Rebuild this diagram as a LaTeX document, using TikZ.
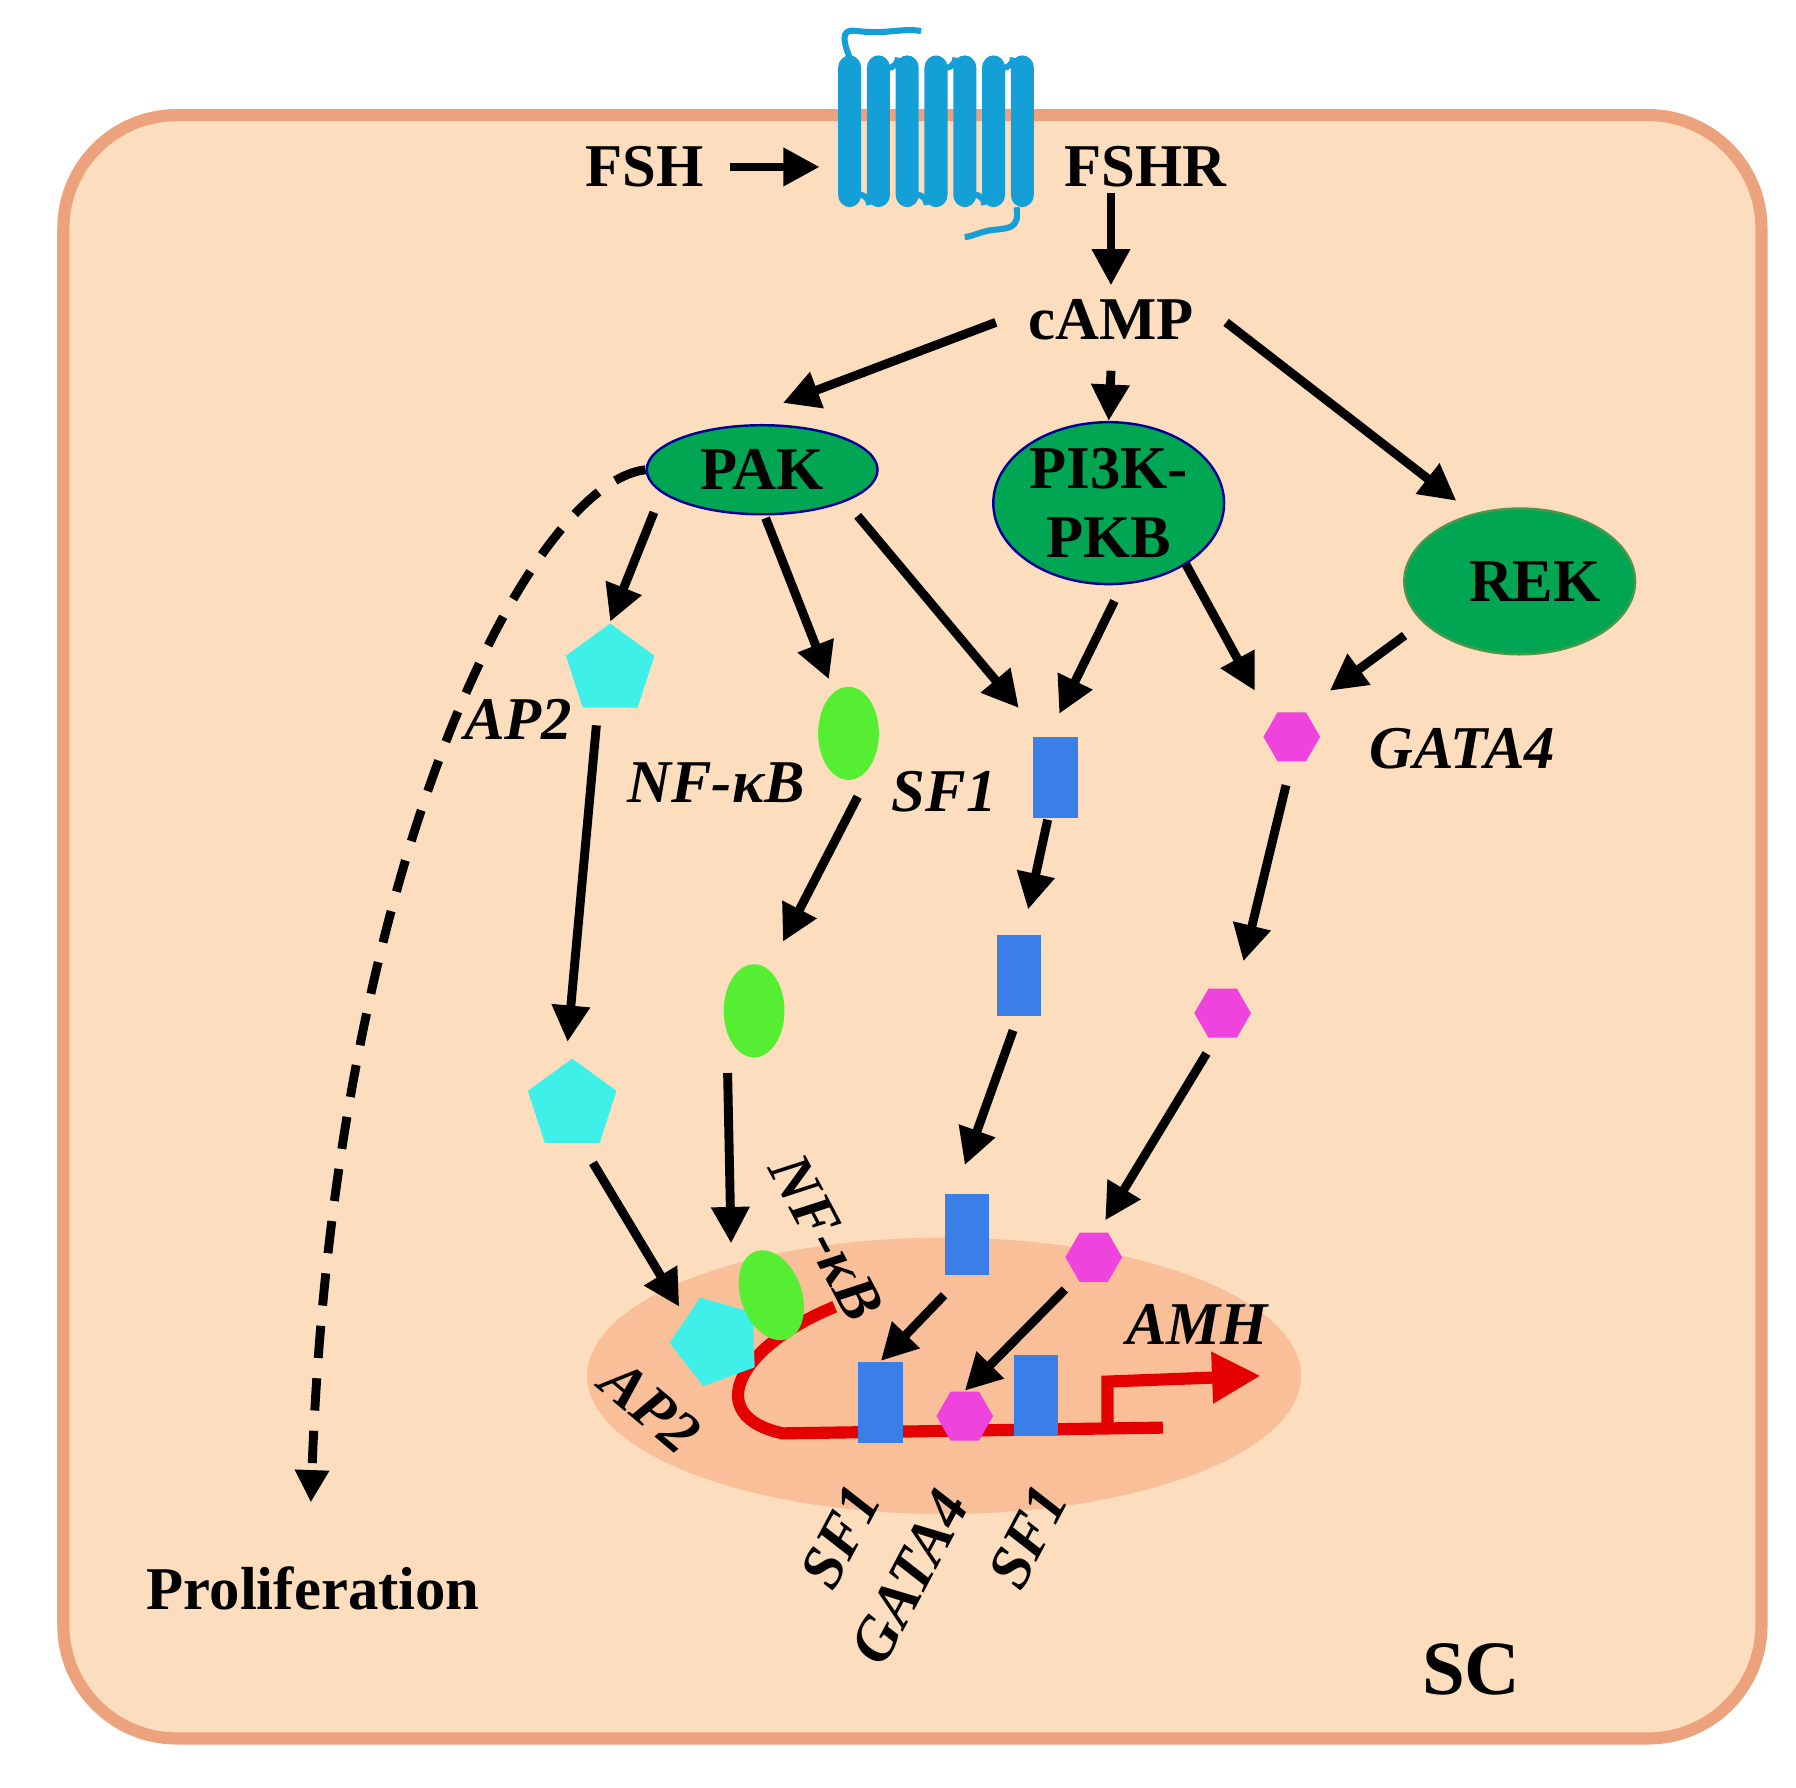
\documentclass[tikz,border=0pt]{standalone}
\usepackage{fontspec}
\setmainfont{Liberation Serif}
\usetikzlibrary{shapes.geometric,arrows.meta}
\definecolor{cellf}{HTML}{FCDDBD}
\definecolor{celld}{HTML}{EDA27E}
\definecolor{nuc}{HTML}{F8BF98}
\definecolor{gr}{HTML}{00A651}
\definecolor{rec}{HTML}{149FD6}
\definecolor{cy}{HTML}{3EF0E8}
\definecolor{lg}{HTML}{55EE33}
\definecolor{bl}{HTML}{3A7FE8}
\definecolor{mg}{HTML}{EE44DD}
\begin{document}
\begin{tikzpicture}[x=0.01cm,y=-0.01cm,
 ar/.style={line width=2.2pt,-{Triangle[length=9pt,width=9pt]}},
 lb/.style={font=\fontsize{15}{18}\selectfont\bfseries},
 il/.style={font=\fontsize{15}{18}\selectfont\bfseries\itshape},
 enz/.style={ellipse,fill=gr,draw=blue!60!black,line width=0.6pt,font=\fontsize{15}{17}\selectfont\bfseries,align=center,inner sep=0pt},
 pent/.style={regular polygon,regular polygon sides=5,fill=cy,minimum size=23pt,inner sep=0pt},
 hexa/.style={regular polygon,regular polygon sides=6,fill=mg,minimum size=14pt,inner sep=0pt},
 sfr/.style={rectangle,fill=bl,minimum width=11pt,minimum height=20pt,inner sep=0pt},
 nfe/.style={ellipse,fill=lg,minimum width=15pt,minimum height=23pt,inner sep=0pt}]
\useasboundingbox (0,0) rectangle (1560,1553);
\fill[white] (0,0) rectangle (1560,1553);
\draw[fill=cellf,draw=celld,line width=3pt,rounded corners=28pt] (55,100) rectangle (1530,1510);
% receptor
\foreach \i in {0,...,6}{\fill[rec,rounded corners=3pt] (728+\i*25,48) rectangle (748+\i*25,180);}
\foreach \i in {0,2,4}{\draw[rec,line width=1.5pt] (762+\i*25,50) arc (180:0:9);}
\foreach \i in {0,2,4}{\draw[rec,line width=1.5pt] (737+\i*25,178) arc (180:360:9);}
\draw[rec,line width=1.5pt] (738,50) .. controls (730,30) and (733,25) .. (745,27) .. controls (770,30) and (785,24) .. (800,27);
\draw[rec,line width=1.5pt] (883,180) .. controls (886,200) and (875,198) .. (860,200) .. controls (850,202) and (845,205) .. (838,206);
\coordinate (rc) at (712,145);
\node[lb] (fsh) at (560,145) {FSH};
\draw[ar] (fsh.east) ++(10,0) -- (rc);
\node[lb] (fshr) at (995,145) {FSHR};
\node[lb] (camp) at (965,278) {cAMP};
\draw[ar] (965,168) -- (camp.north);
\node[enz,minimum width=57pt,minimum height=22pt] (pak) at (662,408) {PAK};
\node[enz,minimum width=57pt,minimum height=40pt] (pi3k) at (963,437) {PI3K-\\PKB};
\node[enz,minimum width=57pt,minimum height=36pt,draw=gr!60!brown] (rek) at (1320,505) {\ \ REK};
\draw[ar] (865,280) -- (680,350);
\draw[ar] (965,322) -- (pi3k.north);
\draw[ar] (1065,280) -- (1265,435);
\draw[line width=2.2pt,dash pattern=on 8pt off 5pt,-{Triangle[length=8pt,width=8pt]}] (pak.west) .. controls (460,420) and (290,750) .. (270,1305);
\node[pent] (ap1) at (530,582) {};
\node[nfe] (nf1) at (737,637) {};
\node[sfr] (sf1) at (917,675) {};
\node[hexa] (g1) at (1122,640) {};
\draw[ar] (568,445) -- (530,540);
\draw[ar] (665,450) -- (720,590);
\draw[ar] (745,448) -- (885,615);
\draw[ar] (968,522) -- (920,620);
\draw[ar] (1030,490) -- (1090,600);
\draw[ar] (1220,552) -- (1155,600);
\node[il] at (450,625) {AP2};
\node[il] at (622,680) {NF-κB};
\node[il] at (820,688) {SF1};
\node[il] at (1270,650) {GATA4};
\node[pent] (ap2) at (497,960) {};
\node[nfe] (nf2) at (655,878) {};
\node[sfr] (sf2) at (885,847) {};
\node[hexa] (g2) at (1062,880) {};
\draw[ar] (518,630) -- (493,905);
\draw[ar] (745,692) -- (680,818);
\draw[ar] (910,712) -- (893,790);
\draw[ar] (1117,682) -- (1080,835);
\fill[nuc] (820,1195) ellipse (310 and 120);
\node[sfr] (sf3) at (840,1072) {};
\node[hexa] (g3) at (950,1092) {};
\draw[ar] (515,1010) -- (590,1135);
\draw[ar] (632,932) -- (635,1080);
\draw[ar] (880,895) -- (838,1012);
\draw[ar] (1048,915) -- (960,1060);
\draw[red!90!black,line width=3pt] (725,1135) .. controls (640,1170) and (610,1230) .. (680,1245) -- (1010,1240);
\draw[red!90!black,line width=3pt,-{Triangle[length=12pt,width=12pt]}] (962,1243) -- (962,1200) -- (1095,1195);
\node[pent,rotate=20] (ap4) at (622,1165) {};
\node[nfe,rotate=20] (nf4) at (670,1125) {};
\node[sfr] (sf4) at (765,1218) {};
\node[sfr] (sf5) at (900,1212) {};
\node[hexa] (g4) at (838,1230) {};
\draw[ar] (820,1125) -- (sf4.north);
\draw[ar] (925,1120) -- (g4.north);
\node[il,rotate=-62] at (718,1075) {NF-κB};
\node[il,rotate=-40] at (565,1222) {AP2};
\node[il] at (1040,1150) {AMH};
\node[il,rotate=62] at (730,1335) {SF1};
\node[il,rotate=62] at (790,1370) {GATA4};
\node[il,rotate=62] at (893,1335) {SF1};
\node[lb] at (272,1380) {Proliferation};
\node[font=\fontsize{19}{22}\selectfont\bfseries] at (1278,1450) {SC};
\end{tikzpicture}
\end{document}
